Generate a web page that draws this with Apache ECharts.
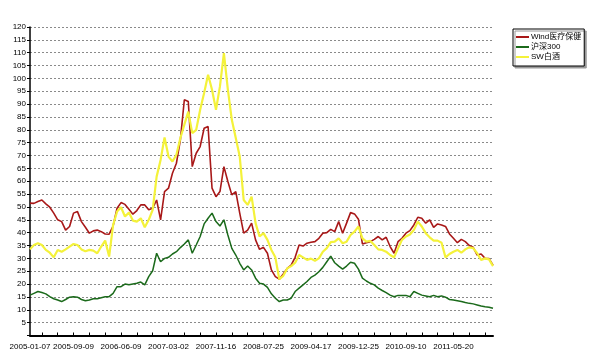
<!DOCTYPE html>
<html>
<head>
<meta charset="utf-8">
<script src="https://cdn.jsdelivr.net/npm/echarts@6/dist/echarts.min.js"></script>
<style>
html,body{margin:0;padding:0;background:#fff;}
#chart{width:596px;height:364px;}
</style>
</head>
<body>
<div id="chart"></div>
<script>
// x-axis tick labels and the category index where each one sits
const tickLabels = ['2005-01-07','2005-09-09','2006-06-09','2007-03-02','2007-11-16','2008-07-25','2009-04-17','2009-12-25','2010-09-10','2011-05-20'];
const tickIndex = [0, 11, 23, 35, 47, 59, 71, 83, 95, 107];

const seriesNames = ['Wind医疗保健', '沪深300', 'SW白酒'];

const windHealth = [
51.5,51.4,52.1,52.7,51.2,49.9,47.6,45.0,44.3,41.0,
42.4,47.6,48.2,44.3,42.1,39.8,40.7,41.0,40.4,39.5,
39.4,42.6,49.5,51.7,51.0,49.1,47.2,48.6,50.8,50.8,
48.9,49.5,52.7,45.0,56.0,57.3,63.1,67.0,76.1,91.7,
91.0,65.7,70.9,73.5,80.6,81.3,57.3,54.0,56.0,65.7,
59.9,54.7,56.0,47.6,39.8,41.0,43.7,37.2,33.5,34.3,
32.0,25.5,22.9,21.9,23.9,26.1,27.4,30.4,35.2,34.8,
35.9,36.3,36.5,37.8,39.8,40.0,41.3,40.4,44.3,39.8,
43.7,47.8,47.3,45.2,35.6,36.1,36.5,37.4,38.5,37.2,
38.2,34.6,32.0,36.5,37.8,39.8,40.8,43.0,46.0,45.6,
43.7,45.0,42.1,43.4,43.0,42.4,39.5,37.8,36.1,37.4,
36.5,35.0,34.3,31.3,31.7,30.0,29.9,27.4
];

const hs300 = [
15.7,16.4,17.1,16.7,16.2,15.1,14.3,13.8,13.2,14.0,
14.9,15.1,14.9,14.0,13.5,13.8,14.3,14.3,14.7,15.1,
15.1,16.4,19.0,19.0,20.0,19.7,20.0,20.3,20.8,19.7,
22.9,25.2,32.0,28.7,30.0,30.4,31.7,32.6,34.2,35.6,
37.2,32.0,35.2,38.5,43.4,45.6,47.6,44.3,42.6,45.0,
39.1,33.9,31.3,28.1,25.5,27.0,25.5,22.3,20.3,20.0,
18.7,16.2,14.5,13.2,13.8,13.8,14.5,17.1,18.4,19.7,
21.0,22.6,23.5,24.8,26.5,28.7,30.9,28.3,27.0,25.8,
27.0,28.5,28.1,25.8,22.3,21.2,20.3,19.7,18.4,17.5,
16.7,15.7,15.1,15.6,15.6,15.6,15.1,17.1,16.4,15.7,
15.4,15.1,15.6,15.1,15.4,14.9,14.0,13.8,13.5,13.2,
12.8,12.5,12.3,11.9,11.5,11.2,11.0,10.6
];

const swLiquor = [
33.5,35.2,35.9,35.2,33.3,32.2,30.4,33.3,32.6,33.5,
34.6,35.6,35.2,33.5,32.8,33.3,33.0,32.0,34.6,36.9,
30.7,43.0,48.2,49.9,46.3,47.8,44.7,44.3,45.6,42.1,
45.0,48.9,61.8,68.3,77.0,69.6,67.7,70.3,76.8,82.0,
87.1,78.7,80.0,87.8,94.3,101.4,95.6,87.8,96.9,109.8,
95.6,83.9,76.8,69.6,52.7,50.8,54.0,43.7,38.5,39.8,
37.2,33.3,30.4,21.9,23.2,26.1,27.0,28.3,31.3,30.4,
29.4,29.9,29.1,30.0,32.6,34.0,36.3,36.5,37.8,35.9,
36.5,39.1,40.4,42.4,37.8,36.5,36.8,35.2,33.5,33.3,
32.6,31.3,30.4,33.9,37.2,38.5,39.3,41.0,44.3,42.4,
39.8,38.2,36.9,36.9,36.1,30.4,31.7,32.6,33.3,32.2,
33.5,34.3,34.0,32.0,29.4,30.0,29.6,27.0
];

// Weekly trading dates for each category (between labelled dates)
function fmt(d){
  const p = n => (n < 10 ? '0' : '') + n;
  return d.getUTCFullYear() + '-' + p(d.getUTCMonth() + 1) + '-' + p(d.getUTCDate());
}
function parse(s){ const a = s.split('-').map(Number); return Date.UTC(a[0], a[1]-1, a[2]); }
const WEEK = 7 * 24 * 3600 * 1000;
const categories = [];
for (let i = 0; i < windHealth.length; i++) {
  let k = 0;
  while (k < tickIndex.length - 1 && tickIndex[k + 1] <= i) k++;
  const t0 = parse(tickLabels[k]);
  let t;
  if (k < tickIndex.length - 1) {
    const t1 = parse(tickLabels[k + 1]);
    const weeks = Math.round((t1 - t0) / WEEK);
    t = t0 + Math.round((i - tickIndex[k]) / (tickIndex[k + 1] - tickIndex[k]) * weeks) * WEEK;
  } else {
    t = t0 + Math.round((i - tickIndex[k]) * 3) * WEEK;
  }
  categories.push(fmt(new Date(t)));
}

const chart = echarts.init(document.getElementById('chart'), null, {renderer: 'canvas'});
const fontFamily = '"Liberation Sans", Arial, "Noto Sans CJK SC", sans-serif';
chart.setOption({
  animation: false,
  backgroundColor: '#fff',
  grid: {left: 30, right: 103, top: 27, bottom: 28.5, containLabel: false},
  legend: {
    orient: 'vertical',
    left: 513, top: 29,
    itemWidth: 13, itemHeight: 2, itemGap: 0,
    icon: 'rect',
    padding: [3, 3, 4, 3],
    borderColor: '#000', borderWidth: 1,
    backgroundColor: '#fff',
    shadowColor: '#9a9a9a', shadowOffsetX: 2, shadowOffsetY: 2, shadowBlur: 0,
    textStyle: {fontFamily: fontFamily, fontSize: 8, color: '#000', lineHeight: 10, padding: [0, 0, 0, -3]},
    data: seriesNames
  },
  xAxis: {
    type: 'category',
    boundaryGap: false,
    data: categories,
    axisLine: {lineStyle: {color: '#000', width: 2}},
    axisTick: {inside: true, length: 3, interval: i => (i + 1) % 4 === 0, lineStyle: {color: '#000'}},
    axisLabel: {interval: i => tickIndex.indexOf(i) >= 0, margin: 7, fontFamily: fontFamily, fontSize: 8, color: '#000'},
    splitLine: {show: false}
  },
  yAxis: {
    type: 'value',
    min: 0, max: 120, interval: 5,
    axisLine: {show: true, lineStyle: {color: '#000', width: 1.5}},
    axisTick: {show: true, length: 3, lineStyle: {color: '#000'}},
    axisLabel: {margin: 4, fontFamily: fontFamily, fontSize: 8, color: '#000', formatter: v => (v === 0 ? '' : v)},
    splitLine: {lineStyle: {color: '#8a8a8a', type: [2, 2], width: 1}}
  },
  series: [
    {name: seriesNames[0], type: 'line', data: windHealth, symbol: 'none', lineStyle: {color: '#a81818', width: 1.6}, itemStyle: {color: '#a81818'}},
    {name: seriesNames[1], type: 'line', data: hs300, symbol: 'none', lineStyle: {color: '#1b6a1b', width: 1.5}, itemStyle: {color: '#1b6a1b'}},
    {name: seriesNames[2], type: 'line', data: swLiquor, symbol: 'none', lineStyle: {color: '#f4f23a', width: 2.2}, itemStyle: {color: '#f4f23a'}}
  ]
});
</script>
</body>
</html>
